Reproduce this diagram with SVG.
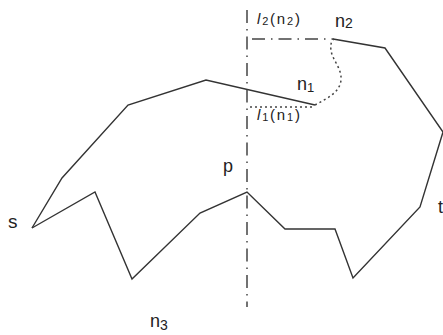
<svg xmlns="http://www.w3.org/2000/svg" width="443" height="335" viewBox="0 0 443 335">
<style>
.path{fill:none;stroke:#333;stroke-width:1.4;stroke-linejoin:miter}
.axis{fill:none;stroke:#444;stroke-width:1.5;stroke-dasharray:13 6 1.5 6}
.dot{fill:none;stroke:#444;stroke-width:1.5;stroke-dasharray:2 3}
.lbl{font-family:"Liberation Sans",Arial,sans-serif;fill:#222}
.sm{letter-spacing:1.8px}
</style>
<rect width="443" height="335" fill="#fff"/>
<g id="connectors">
<path class="path" d="M32,228 L62,178 L128,105 L206,80 L315,105"/>
<path class="path" d="M333,39 L385,48 L443,132 L420,207 L353,278 L335,229 L285,229 L247,192 L200,213 L132,279 L95,192 L32,228"/>
<path class="dot" d="M315,105 C328,98 340,92 341,80 C342,68 332,60 331,50 C330,44 332,40 334,39"/>
<path class="axis" d="M247,10 L247,307"/>
<path class="axis" d="M252,39 L333,39"/>
<path class="dot" d="M250,107 L313,107"/>
</g>
<g id="s"><text class="lbl" x="8" y="228" font-size="19">s</text></g>
<g id="t"><text class="lbl" x="438" y="213" font-size="18">t</text></g>
<g id="p"><text class="lbl" x="223" y="172" font-size="18">p</text></g>
<g id="n1"><text class="lbl" x="297" y="90" font-size="18">n<tspan font-size="13" dy="2">1</tspan></text></g>
<g id="n2"><text class="lbl" x="335" y="27" font-size="18">n<tspan font-size="14" dy="1">2</tspan></text></g>
<g id="n3"><text class="lbl" x="150" y="327" font-size="18">n<tspan font-size="14" dy="3">3</tspan></text></g>
<g id="l2n2"><text class="lbl sm" x="257" y="24" font-size="15"><tspan font-style="italic">l</tspan><tspan font-size="11" dy="1">2</tspan><tspan dy="-1">(n</tspan><tspan font-size="11" dy="1">2</tspan><tspan dy="-1">)</tspan></text></g>
<g id="l1n1"><text class="lbl sm" x="257" y="120" font-size="15"><tspan font-style="italic">l</tspan><tspan font-size="11" dy="1">1</tspan><tspan dy="-1">(n</tspan><tspan font-size="11" dy="1">1</tspan><tspan dy="-1">)</tspan></text></g>
</svg>
